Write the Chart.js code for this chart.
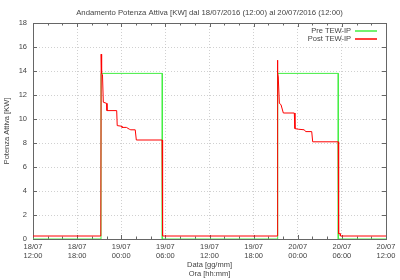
<!DOCTYPE html>
<html><head><meta charset="utf-8">
<script src="https://cdn.jsdelivr.net/npm/chart.js@4.4.1/dist/chart.umd.min.js"></script>
<style>html,body{margin:0;padding:0;background:#fff}canvas{display:block}</style>
</head><body>
<canvas id="c" width="400" height="280"></canvas>
<script>
const chartTitle = "Andamento Potenza Attiva [KW] dal 18/07/2016 (12:00) al 20/07/2016 (12:00)";
const seriesNames = ["Pre TEW-IP", "Post TEW-IP"];
const seriesColors = ["#44ee44", "#ff0000"];
// time in hours after 18/07 12:00
const preHours = [0, 9.25, 9.25, 17.58, 17.58, 33.27, 33.27, 41.51, 41.51, 48];
const preKW    = [0, 0, 13.8, 13.8, 0, 0, 13.8, 13.8, 0, 0];
const postHours = [0, 9.22, 9.27, 9.33, 9.45, 9.56, 10.02, 10.06, 11.38, 11.45, 12.02, 12.1, 12.7, 13.1, 13.3, 13.9, 14.05, 17.55, 17.62,
                   33.2, 33.24, 33.29, 33.35, 33.5, 33.72, 34.04, 35.53, 35.62, 36.07, 36.89, 37.08, 37.9, 38.03, 41.5, 41.56, 41.75, 41.8, 48];
const postKW    = [0.25, 0.25, 15.4, 13.8, 13.7, 11.4, 11.3, 10.7, 10.7, 9.45, 9.4, 9.3, 9.3, 9.15, 9.1, 9.1, 8.25, 8.25, 0.25,
                   0.25, 14.9, 13.8, 13.5, 11.3, 11.2, 10.5, 10.5, 9.2, 9.15, 9.1, 8.95, 8.95, 8.1, 8.1, 0.45, 0.45, 0.25, 0.25];
const xTickHours = [0, 6, 12, 18, 24, 30, 36, 42, 48];
const xTickLabels = [["18/07","12:00"],["18/07","18:00"],["19/07","00:00"],["19/07","06:00"],["19/07","12:00"],["19/07","18:00"],["20/07","00:00"],["20/07","06:00"],["20/07","12:00"]];
const xMinorStep = 2;
const yMin = 0, yMax = 18, yStep = 2;
const xTitle = ["Data [gg/mm]", "Ora [hh:mm]"];
const yTitle = "Potenza Attiva [KW]";

const FONT = "'Liberation Sans', Arial, sans-serif";
const TXT = "#444";

const framePlugin = {
  id: 'frame',
  beforeDatasetsDraw(chart) {
    const {ctx, chartArea: a, scales: {x, y}} = chart;
    ctx.save();
    ctx.setLineDash([]);
    ctx.strokeStyle = "#666";
    ctx.lineWidth = 1;
    ctx.beginPath();
    for (let h = x.min; h <= x.max + 1e-9; h += xMinorStep) {
      const px = Math.round(x.getPixelForValue(h)) + 0.5;
      const len = (h % 6 === 0) ? 4 : 2.5;
      ctx.moveTo(px, a.bottom); ctx.lineTo(px, a.bottom - len);
      ctx.moveTo(px, a.top); ctx.lineTo(px, a.top + len);
    }
    for (let v = yMin; v <= yMax; v += yStep) {
      const py = Math.round(y.getPixelForValue(v)) + 0.5;
      ctx.moveTo(a.left, py); ctx.lineTo(a.left + 4, py);
      ctx.moveTo(a.right, py); ctx.lineTo(a.right - 4, py);
    }
    ctx.stroke();
    ctx.strokeRect(Math.round(a.left) + 0.5, Math.round(a.top) + 0.5, Math.round(a.right - a.left), Math.round(a.bottom - a.top));
    ctx.restore();
  },
  afterDraw(chart) {
    const {ctx, chartArea: a} = chart;
    ctx.save();
    ctx.setLineDash([]);
    ctx.globalAlpha = 1;
    ctx.fillStyle = TXT;
    ctx.font = "7.75px " + FONT;
    ctx.textAlign = "center";
    ctx.textBaseline = "middle";
    ctx.fillText(chartTitle, (a.left + a.right) / 2, 13);
    ctx.font = "7.5px " + FONT;
    ctx.textAlign = "right";
    seriesNames.forEach((name, i) => {
      const yy = 30.5 + i * 8;
      ctx.fillStyle = TXT;
      ctx.fillText(name, 351, yy);
      ctx.fillStyle = seriesColors[i];
      ctx.fillRect(355, yy - 0.25, 22, 1.5);
    });
    ctx.restore();
  }
};

new Chart(document.getElementById('c'), {
  type: 'line',
  data: {
    datasets: [
      { label: seriesNames[0], data: preHours.map((h, i) => ({x: h, y: preKW[i]})), borderColor: seriesColors[0], borderWidth: 1, pointRadius: 0, tension: 0, fill: false, order: 2 },
      { label: seriesNames[1], data: postHours.map((h, i) => ({x: h, y: postKW[i]})), borderColor: seriesColors[1], borderWidth: 1, pointRadius: 0, tension: 0, fill: false, order: 1 }
    ]
  },
  options: {
    responsive: false,
    animation: false,
    devicePixelRatio: 1,
    layout: { padding: { top: 23, right: 14, left: 0, bottom: 0 } },
    plugins: { legend: { display: false }, title: { display: false }, tooltip: { enabled: false } },
    scales: {
      x: {
        type: 'linear', min: 0, max: 48,
        afterBuildTicks(s) { s.ticks = xTickHours.map(v => ({value: v})); },
        afterFit(s) { s.height = 41; },
        ticks: { callback: (v, i) => xTickLabels[i], autoSkip: false, maxRotation: 0, padding: 4, color: TXT, font: { family: FONT, size: 7.5, lineHeight: 1.15 } },
        grid: { color: "rgba(170,170,170,0.55)", drawTicks: false, lineWidth: 1 },
        border: { display: false, dash: [1, 2] },
        title: { display: true, text: xTitle, color: TXT, font: { family: FONT, size: 7.5, lineHeight: 1.15 }, padding: { top: 0, bottom: 2 } }
      },
      y: {
        min: yMin, max: yMax,
        afterFit(s) { s.width = 33; },
        ticks: { stepSize: yStep, padding: 6, color: TXT, font: { family: FONT, size: 7.5 } },
        grid: { color: "rgba(170,170,170,0.55)", drawTicks: false, lineWidth: 1 },
        border: { display: false, dash: [1, 2] },
        title: { display: true, text: yTitle, color: TXT, font: { family: FONT, size: 7.5, lineHeight: 1.2 }, padding: { top: 2, bottom: 0 } }
      }
    }
  },
  plugins: [framePlugin]
});
</script>
</body></html>
